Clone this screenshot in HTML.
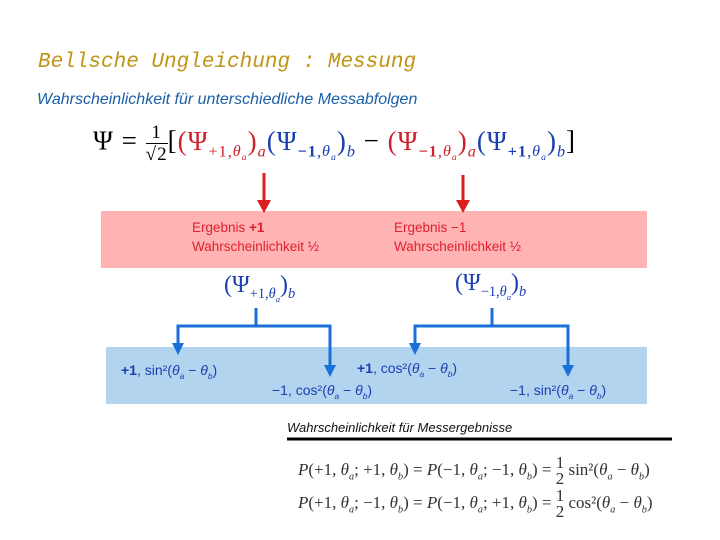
<!DOCTYPE html>
<html><head><meta charset="utf-8"><style>
body{margin:0;width:720px;height:540px;background:#fff;position:relative;overflow:hidden;font-family:"Liberation Sans",sans-serif}
.a{position:absolute;white-space:nowrap}
.m{font-family:"Liberation Serif",serif}
i{font-style:italic}
sub{font-size:60%}
.r{color:#d0202a}.b{color:#1a3fb0}
</style></head><body>
<div class="a" style="left:38px;top:51px;font-family:'Liberation Mono',monospace;font-style:italic;font-size:21px;color:#c09414">Bellsche Ungleichung : Messung</div>
<div class="a" style="left:37px;top:91px;font-style:italic;font-size:16px;color:#1a5fa8">Wahrscheinlichkeit für unterschiedliche Messabfolgen</div>
<div class="a m" style="left:93px;top:122px;font-size:27px;letter-spacing:1px">Ψ = <span style="display:inline-block;vertical-align:middle;text-align:center;font-size:19px;line-height:21px"><span style="display:block;border-bottom:1px solid #000">1</span>√2</span>[<span class="r">(Ψ<sub>+1,<i>θ<sub>a</sub></i></sub>)<sub><i>a</i></sub></span><span class="b">(Ψ<sub><b>−1</b>,<i>θ<sub>a</sub></i></sub>)<sub><i>b</i></sub></span> − <span class="r">(Ψ<sub><b>−1</b>,<i>θ<sub>a</sub></i></sub>)<sub><i>a</i></sub></span><span class="b">(Ψ<sub><b>+1</b>,<i>θ<sub>a</sub></i></sub>)<sub><i>b</i></sub></span>]</div>
<div class="a" style="left:101px;top:211px;width:546px;height:57px;background:#ffb3b3"></div>
<div class="a" style="left:106px;top:347px;width:541px;height:57px;background:#b3d4ef"></div>
<div class="a" style="left:192px;top:218px;font-size:13.5px;line-height:19px;color:#e02030">Ergebnis <b>+1</b><br>Wahrscheinlichkeit ½</div>
<div class="a" style="left:394px;top:218px;font-size:13.5px;line-height:19px;color:#e02030">Ergebnis −1<br>Wahrscheinlichkeit ½</div>
<div class="a m b" style="left:224px;top:272px;font-size:24px">(Ψ<sub>+1,<i>θ<sub>a</sub></i></sub>)<sub><i>b</i></sub></div>
<div class="a m b" style="left:455px;top:270px;font-size:24px">(Ψ<sub>−1,<i>θ<sub>a</sub></i></sub>)<sub><i>b</i></sub></div>
<div class="a b" style="left:121px;top:362px;font-size:14px"><b>+1</b>, sin²(<i>θ<sub>a</sub></i> − <i>θ<sub>b</sub></i>)</div>
<div class="a b" style="left:272px;top:382px;font-size:14px">−1, cos²(<i>θ<sub>a</sub></i> − <i>θ<sub>b</sub></i>)</div>
<div class="a b" style="left:357px;top:360px;font-size:14px"><b>+1</b>, cos²(<i>θ<sub>a</sub></i> − <i>θ<sub>b</sub></i>)</div>
<div class="a b" style="left:510px;top:382px;font-size:14px">−1, sin²(<i>θ<sub>a</sub></i> − <i>θ<sub>b</sub></i>)</div>
<svg class="a" style="left:0;top:0" width="720" height="540">
<g stroke="#d81e1e" stroke-width="3" fill="#d81e1e">
<line x1="264" y1="173" x2="264" y2="202"/><polygon points="257,200 271,200 264,213" stroke="none"/>
<line x1="463" y1="175" x2="463" y2="202"/><polygon points="456,200 470,200 463,213" stroke="none"/>
</g>
<g stroke="#1a6fd8" stroke-width="3" fill="none">
<polyline points="256,308 256,326"/><polyline points="178,345 178,326 330,326 330,367"/>
<polyline points="492,308 492,326"/><polyline points="415,345 415,326 568,326 568,367"/>
</g>
<g fill="#1a6fd8">
<polygon points="172,343 184,343 178,355"/><polygon points="324,365 336,365 330,377"/>
<polygon points="409,343 421,343 415,355"/><polygon points="562,365 574,365 568,377"/>
</g>
<line x1="287" y1="439" x2="672" y2="439" stroke="#000" stroke-width="3"/>
</svg>
<div class="a" style="left:287px;top:420px;font-style:italic;font-size:13px;color:#111">Wahrscheinlichkeit für Messergebnisse</div>
<div class="a m" style="left:298px;top:455px;font-size:17px;color:#333"><i>P</i>(+1, <i>θ<sub>a</sub></i>; +1, <i>θ<sub>b</sub></i>) = <i>P</i>(−1, <i>θ<sub>a</sub></i>; −1, <i>θ<sub>b</sub></i>) = <span style="display:inline-block;vertical-align:middle;text-align:center;line-height:16px">1<br>2</span> sin²(<i>θ<sub>a</sub></i> − <i>θ<sub>b</sub></i>)</div>
<div class="a m" style="left:298px;top:488px;font-size:17px;color:#333"><i>P</i>(+1, <i>θ<sub>a</sub></i>; −1, <i>θ<sub>b</sub></i>) = <i>P</i>(−1, <i>θ<sub>a</sub></i>; +1, <i>θ<sub>b</sub></i>) = <span style="display:inline-block;vertical-align:middle;text-align:center;line-height:16px">1<br>2</span> cos²(<i>θ<sub>a</sub></i> − <i>θ<sub>b</sub></i>)</div>
</body></html>
